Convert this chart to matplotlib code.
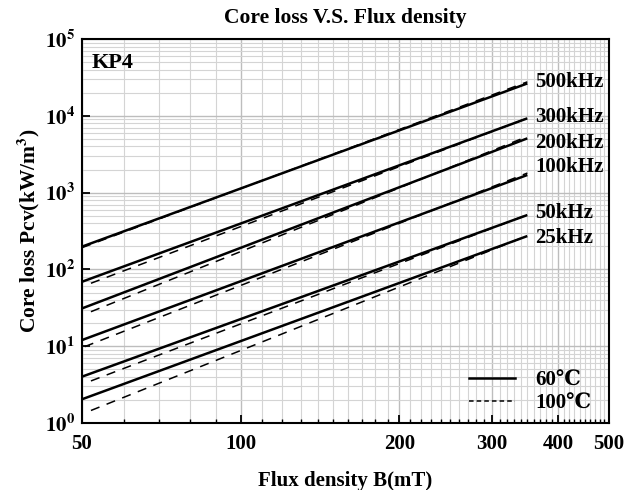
import matplotlib
matplotlib.use("Agg")
import matplotlib.pyplot as plt
from matplotlib.ticker import FixedLocator, NullFormatter
import numpy as np

# ---- data ----
freq_labels = ["500kHz", "300kHz", "200kHz", "100kHz", "50kHz", "25kHz"]
B_60 = [50, 350]
P_60 = {
    "500kHz": [198, 26500],
    "300kHz": [69, 9300],
    "200kHz": [31, 5100],
    "100kHz": [12, 1700],
    "50kHz": [4.0, 511],
    "25kHz": [2.03, 272],
}
B_100_start = {"500kHz": 50, "300kHz": 52, "200kHz": 52, "100kHz": 50.6, "50kHz": 52, "25kHz": 52}
B_100_end = 350
P_100 = {
    "500kHz": [192, 27800],
    "300kHz": [66, 9350],
    "200kHz": [28.1, 5400],
    "100kHz": [9.85, 1800],
    "50kHz": [3.52, 515],
    "25kHz": [1.45, 275],
}
label_y = [27600, 9650, 4420, 2155, 542, 256]
label_x = 362
x_major = [50, 100, 200, 300, 400, 500]
x_minor = list(range(60, 500, 10))
y_major = [1, 10, 100, 1000, 10000, 100000]

SERIF = ["Liberation Serif", "DejaVu Serif", "Noto Sans CJK SC", "DejaVu Sans"]
plt.rcParams["font.family"] = SERIF
plt.rcParams["mathtext.fontset"] = "stix"

fig = plt.figure(figsize=(6.33, 4.90), dpi=100)
ax = fig.add_axes([0.1295, 0.137, 0.8325, 0.783])

for name in freq_labels:
    ax.plot(B_60, P_60[name], color="black", lw=1.8, solid_capstyle="butt", zorder=3)
    ax.plot([B_100_start[name], B_100_end], P_100[name], color="black", lw=1.1,
            ls=(0, (6, 5)), zorder=3)

ax.set_xscale("log")
ax.set_yscale("log")
ax.set_xlim(50, 500)
ax.set_ylim(1, 1e5)

ax.xaxis.set_major_locator(FixedLocator(x_major))
ax.xaxis.set_minor_locator(FixedLocator(x_minor))
ax.set_xticklabels([str(v) for v in x_major])
ax.xaxis.set_minor_formatter(NullFormatter())
ax.yaxis.set_major_locator(FixedLocator(y_major))
ax.yaxis.set_minor_locator(FixedLocator([d * m for d in y_major[:-1] for m in range(2, 10)]))
ax.set_yticklabels([r"$\mathbf{10^{%d}}$" % int(np.log10(v)) for v in y_major])
ax.yaxis.set_minor_formatter(NullFormatter())

ax.grid(True, which="major", color="#bdbdbd", lw=1.0, zorder=0)
ax.grid(True, which="minor", color="#d4d4d4", lw=0.8, zorder=0)
ax.set_axisbelow(True)

ax.tick_params(which="both", direction="in", top=False, right=False)
ax.tick_params(which="major", length=6, width=1.3, labelsize=15, pad=8)
ax.tick_params(which="minor", length=3, width=1.0)
ax.tick_params(axis="y", which="minor", length=0)
ax.tick_params(axis="y", which="major", pad=5)
for lab in ax.get_xticklabels():
    lab.set_fontweight("bold")
for s in ax.spines.values():
    s.set_linewidth(1.5)

for name, yv in zip(freq_labels, label_y):
    ax.text(label_x, yv, name, fontsize=15, fontweight="bold", va="center", ha="left",
            zorder=5)

ax.text(0.018, 0.965, "KP4", transform=ax.transAxes, fontsize=16, fontweight="bold",
        va="top", ha="left")

ax.set_title("Core loss V.S. Flux density", fontsize=15.5, fontweight="bold", pad=12)
ax.set_xlabel("Flux density B(mT)", fontsize=15, fontweight="bold", labelpad=12)
ax.set_ylabel(r"Core loss Pcv(kW/m$^\mathbf{3}$)", fontsize=15.5, fontweight="bold", labelpad=2)

h1, = ax.plot([], [], color="black", lw=1.8)
h2, = ax.plot([], [], color="black", lw=1.1, ls=(0, (3, 2)))
leg = ax.legend([h1, h2], ["60\u2103", "100\u2103"], loc="lower right", frameon=False,
                prop={"family": SERIF, "size": 15, "weight": "bold"},
                handlelength=2.2, borderaxespad=0.05, labelspacing=0.15, handletextpad=1.0,
                bbox_to_anchor=(0.985, 0.0))

fig.savefig("out.png", dpi=100)
